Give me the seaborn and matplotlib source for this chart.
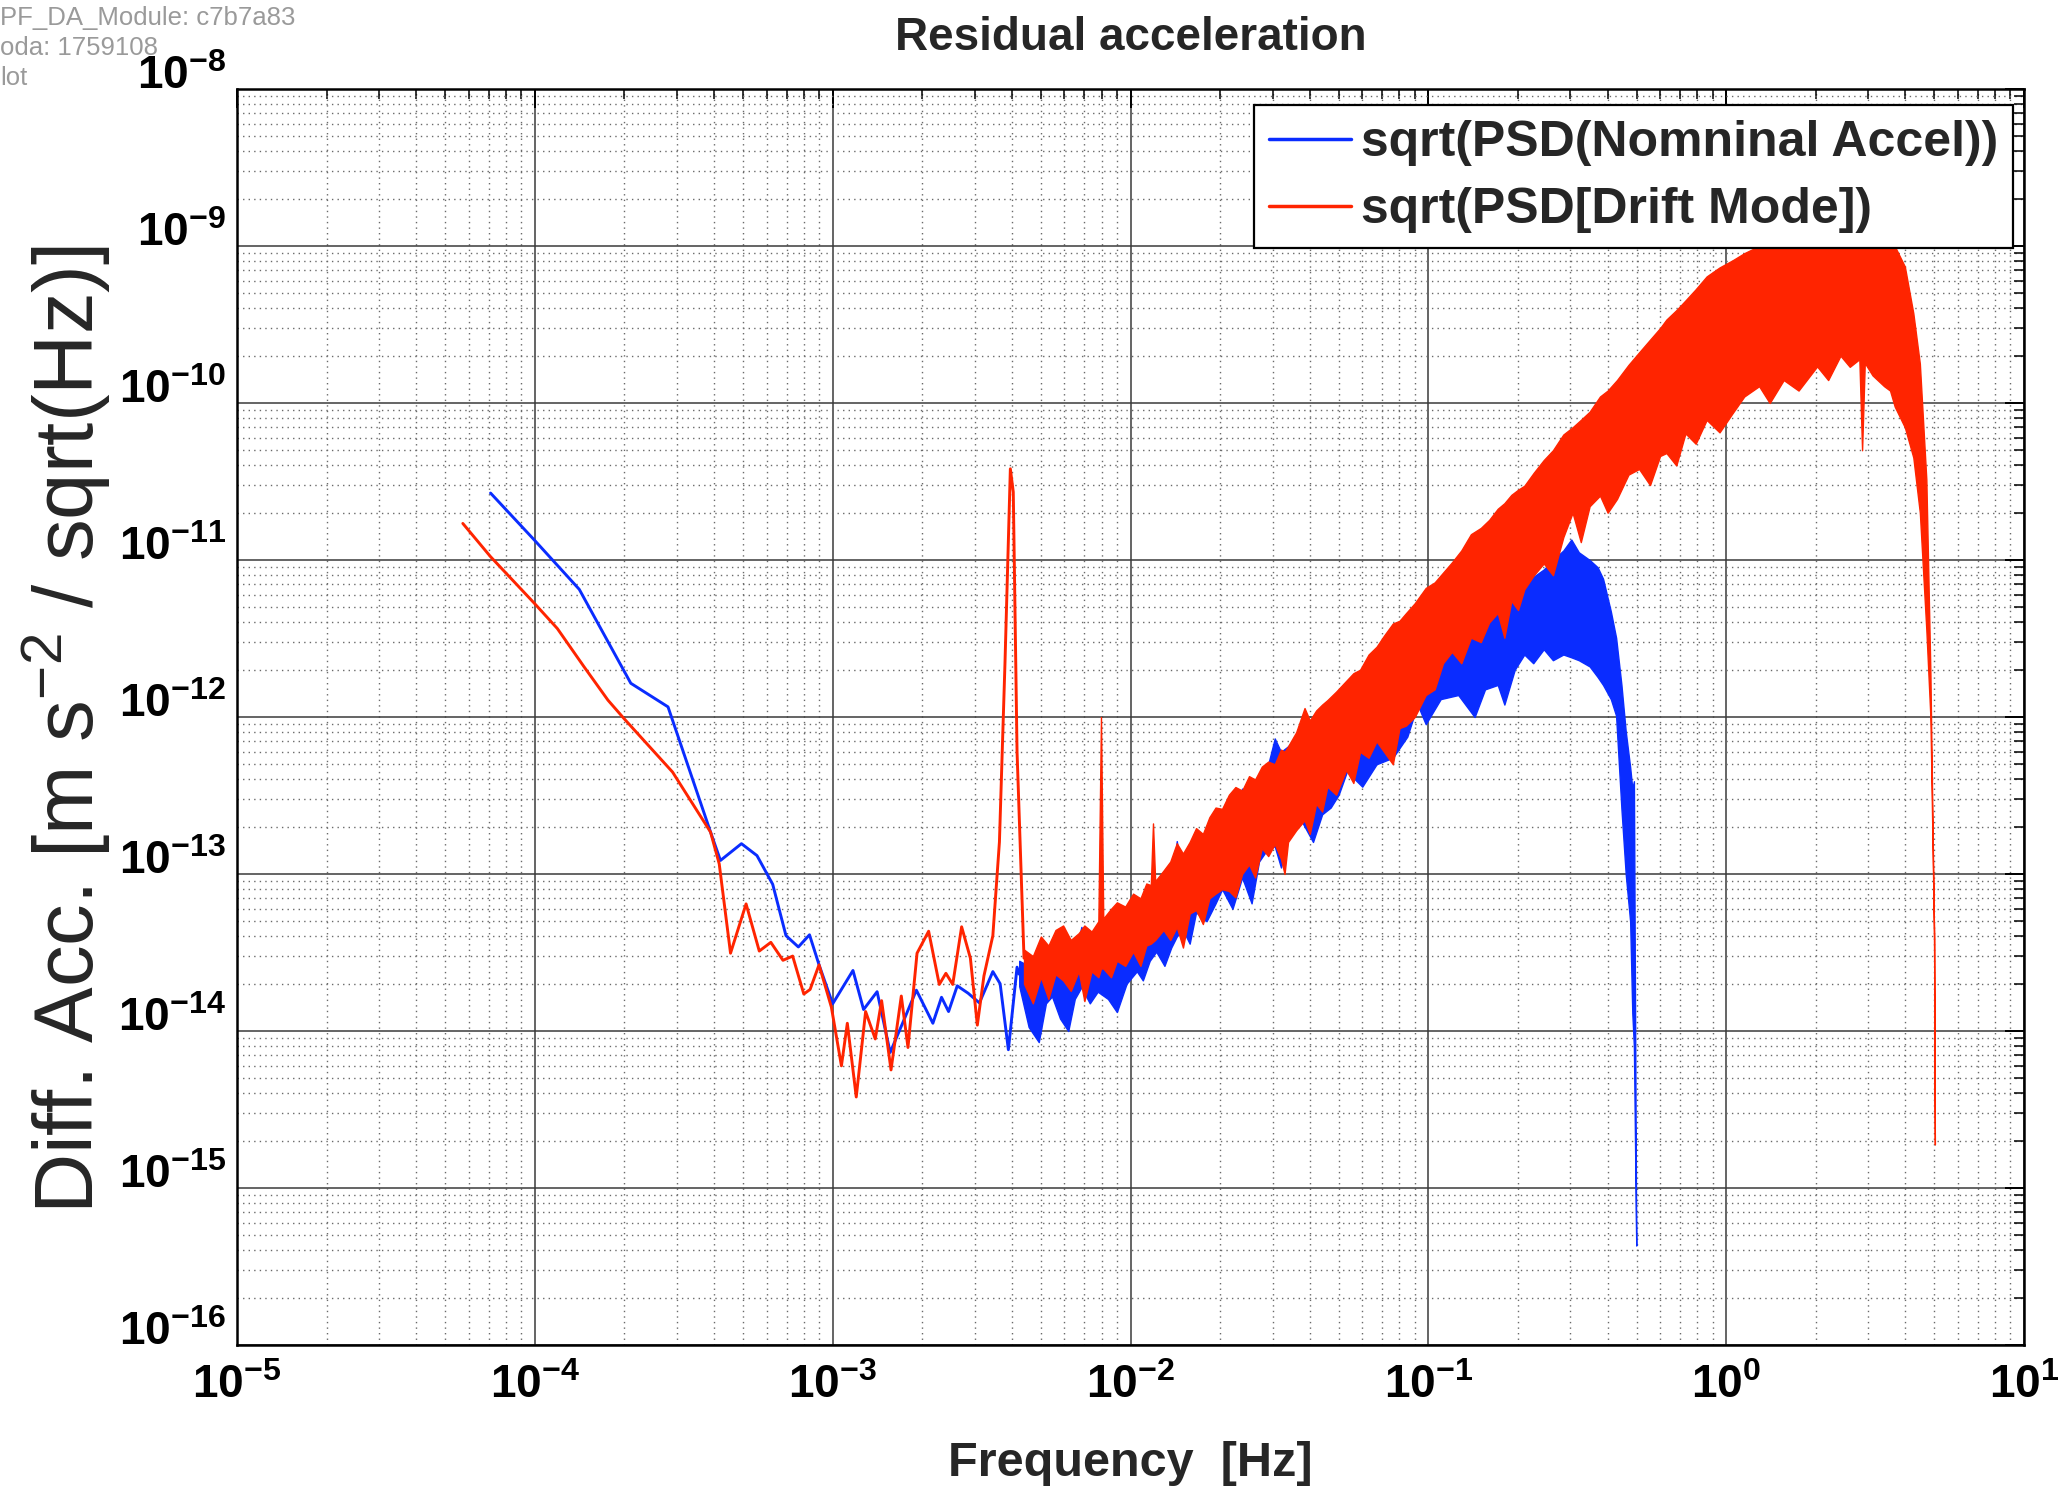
import matplotlib
matplotlib.use("Agg")
import numpy as np
import pandas as pd
import matplotlib.pyplot as plt
import seaborn as sns
from matplotlib.ticker import FixedLocator, FixedFormatter, LogLocator, NullFormatter

# ---------------- data ----------------
# sparse low-frequency part, nominal acceleration (blue)
blue_lf_f = [7.1e-5, 1.0e-4, 1.41e-4, 2.10e-4, 2.80e-4, 3.89e-4, 4.2e-4, 4.94e-4, 5.57e-4,
             6.29e-4, 6.97e-4, 7.67e-4, 8.36e-4, 9.0e-4, 1.0e-3, 1.17e-3, 1.27e-3, 1.41e-3,
             1.56e-3, 1.73e-3, 1.91e-3, 2.17e-3, 2.32e-3, 2.45e-3, 2.62e-3, 2.85e-3, 3.11e-3,
             3.45e-3, 3.65e-3, 3.89e-3, 4.16e-3, 4.23e-3]
blue_lf_y = [2.67e-11, 1.33e-11, 6.5e-12, 1.64e-12, 1.16e-12, 1.85e-13, 1.22e-13, 1.56e-13, 1.31e-13,
             8.6e-14, 4.05e-14, 3.43e-14, 4.1e-14, 2.64e-14, 1.49e-14, 2.43e-14, 1.37e-14, 1.78e-14,
             7.3e-15, 1.16e-14, 1.82e-14, 1.12e-14, 1.64e-14, 1.33e-14, 1.94e-14, 1.74e-14, 1.51e-14,
             2.39e-14, 2.0e-14, 7.6e-15, 2.55e-14, 2.3e-14]

# sparse low-frequency part, drift mode (red)
red_lf_f = [5.73e-5, 7.1e-5, 1.0e-4, 1.19e-4, 1.46e-4, 1.76e-4, 1.99e-4, 2.90e-4, 3.89e-4, 4.16e-4,
            4.54e-4, 5.12e-4, 5.67e-4, 6.2e-4, 6.81e-4, 7.34e-4, 8.0e-4, 8.4e-4, 9.0e-4, 9.9e-4,
            1.07e-3, 1.12e-3, 1.2e-3, 1.29e-3, 1.39e-3, 1.46e-3, 1.57e-3, 1.70e-3, 1.79e-3, 1.92e-3,
            2.1e-3, 2.28e-3, 2.4e-3, 2.53e-3, 2.71e-3, 2.9e-3, 3.06e-3, 3.22e-3, 3.45e-3, 3.63e-3,
            3.79e-3, 3.95e-3, 4.04e-3, 4.16e-3, 4.39e-3]
red_lf_y = [1.71e-11, 1.05e-11, 5.26e-12, 3.66e-12, 2.10e-12, 1.28e-12, 9.8e-13, 4.46e-13, 1.85e-13, 1.16e-13,
            3.13e-14, 6.45e-14, 3.23e-14, 3.67e-14, 2.82e-14, 3.0e-14, 1.72e-14, 1.84e-14, 2.64e-14, 1.42e-14,
            6.0e-15, 1.12e-14, 3.8e-15, 1.33e-14, 8.9e-15, 1.56e-14, 5.65e-15, 1.67e-14, 7.85e-15, 3.13e-14,
            4.32e-14, 1.98e-14, 2.33e-14, 1.98e-14, 4.61e-14, 2.91e-14, 1.09e-14, 2.24e-14, 4.05e-14, 1.6e-13,
            2.23e-12, 3.81e-11, 2.71e-11, 6.0e-13, 2.91e-14]

# dense part (many FFT bins): upper / lower envelope of the blue band
blue_band_f = [4.23e-3, 4.55e-3, 4.92e-3, 5.2e-3, 5.45e-3, 5.8e-3, 6.18e-3, 6.5e-3, 6.84e-3, 7.3e-3,
               7.76e-3, 8.4e-3, 9.0e-3, 9.7e-3, 1.05e-2, 1.1e-2, 1.16e-2, 1.22e-2, 1.3e-2, 1.37e-2,
               1.43e-2, 1.5e-2, 1.58e-2, 1.66e-2, 1.8e-2, 1.93e-2, 2.03e-2, 2.2e-2, 2.37e-2, 2.55e-2,
               2.7e-2, 2.9e-2, 3.05e-2, 3.2e-2, 3.38e-2, 3.74e-2, 4.1e-2, 4.4e-2, 4.7e-2, 5.0e-2,
               5.33e-2, 6.0e-2, 6.7e-2, 7.6e-2, 8.5e-2, 9.2e-2, 9.8e-2, 0.11, 0.126, 0.143,
               0.155, 0.171, 0.18, 0.195, 0.21, 0.225, 0.244, 0.262, 0.284, 0.302,
               0.32, 0.348, 0.37, 0.386, 0.41, 0.427, 0.445, 0.46, 0.476, 0.484,
               0.49, 0.499]
blue_band_hi = [2.8e-14, 2.6e-14, 2.8e-14, 2.5e-14, 3.0e-14, 2.7e-14, 3.2e-14, 3.0e-14, 4.6e-14, 3.4e-14,
                3.6e-14, 3.2e-14, 3.3e-14, 4.0e-14, 4.5e-14, 4.2e-14, 5.9e-14, 6.5e-14, 6.0e-14, 7.5e-14,
                1.62e-13, 9.0e-14, 8.5e-14, 1.0e-13, 1.4e-13, 1.6e-13, 2.0e-13, 2.3e-13, 3.5e-13, 3.2e-13,
                4.0e-13, 5.0e-13, 7.3e-13, 6.0e-13, 6.5e-13, 8.1e-13, 9.0e-13, 1.0e-12, 1.1e-12, 1.2e-12,
                1.4e-12, 1.7e-12, 2.0e-12, 2.5e-12, 2.9e-12, 3.2e-12, 3.5e-12, 4.0e-12, 4.6e-12, 5.2e-12,
                5.6e-12, 6.2e-12, 6.4e-12, 6.8e-12, 7.2e-12, 7.8e-12, 8.7e-12, 1.0e-11, 1.15e-11, 1.35e-11,
                1.12e-11, 1.0e-11, 9.0e-12, 7.6e-12, 4.7e-12, 3.2e-12, 1.6e-12, 8.1e-13, 4.8e-13, 3.5e-13,
                3.9e-13, 4.3e-16]
blue_band_lo = [1.93e-14, 1.06e-14, 8.5e-15, 1.5e-14, 1.66e-14, 1.2e-14, 1.0e-14, 1.6e-14, 1.9e-14, 1.5e-14,
                1.78e-14, 1.6e-14, 1.32e-14, 2.0e-14, 2.4e-14, 2.1e-14, 2.8e-14, 3.2e-14, 2.6e-14, 3.4e-14,
                4.0e-14, 4.4e-14, 3.6e-14, 5.7e-14, 5.0e-14, 6.5e-14, 8.0e-14, 6.0e-14, 9.5e-14, 6.5e-14,
                1.2e-13, 1.46e-13, 1.5e-13, 1.1e-13, 1.7e-13, 2.2e-13, 1.6e-13, 2.4e-13, 2.65e-13, 3.2e-13,
                4.5e-13, 3.6e-13, 5.0e-13, 5.5e-13, 7.5e-13, 1.2e-12, 9.0e-13, 1.3e-12, 1.38e-12, 1.0e-12,
                1.5e-12, 1.6e-12, 1.2e-12, 2.0e-12, 2.5e-12, 2.2e-12, 2.7e-12, 2.3e-12, 2.5e-12, 2.4e-12,
                2.3e-12, 2.1e-12, 1.8e-12, 1.6e-12, 1.3e-12, 1.02e-12, 2.6e-13, 1.0e-13, 5.0e-14, 1.3e-14,
                8.0e-15, 4.3e-16]

# dense part: upper / lower envelope of the red band
red_band_f = [4.39e-3, 4.7e-3, 5.0e-3, 5.3e-3, 5.6e-3, 5.94e-3, 6.3e-3, 6.7e-3, 7.0e-3, 7.4e-3,
              7.8e-3, 7.96e-3, 8.1e-3, 8.6e-3, 9.0e-3, 9.6e-3, 1.02e-2, 1.08e-2, 1.13e-2, 1.17e-2,
              1.19e-2, 1.21e-2, 1.29e-2, 1.36e-2, 1.43e-2, 1.5e-2, 1.58e-2, 1.66e-2, 1.75e-2, 1.84e-2,
              1.93e-2, 2.03e-2, 2.14e-2, 2.25e-2, 2.37e-2, 2.5e-2, 2.62e-2, 2.76e-2, 2.9e-2, 3.05e-2,
              3.2e-2, 3.29e-2, 3.38e-2, 3.6e-2, 3.84e-2, 4.0e-2, 4.2e-2, 4.4e-2, 4.58e-2, 4.9e-2,
              5.3e-2, 5.6e-2, 5.9e-2, 6.3e-2, 6.7e-2, 7.1e-2, 7.6e-2, 8.0e-2, 8.4e-2, 9.0e-2,
              9.8e-2, 0.105, 0.112, 0.120, 0.129, 0.139, 0.15, 0.16, 0.171, 0.18,
              0.19, 0.2, 0.21, 0.226, 0.244, 0.262, 0.284, 0.305, 0.325, 0.348,
              0.377, 0.40, 0.43, 0.47, 0.51, 0.555, 0.6, 0.63, 0.68, 0.73,
              0.79, 0.86, 0.95, 1.05, 1.15, 1.29, 1.4, 1.56, 1.75, 2.02,
              2.2, 2.42, 2.6, 2.80, 2.86, 2.92, 3.1, 3.39, 3.55, 3.68,
              3.98, 4.25, 4.47, 4.70, 4.85, 4.99, 5.02]
red_band_hi = [3.3e-14, 3.0e-14, 4.0e-14, 3.5e-14, 4.4e-14, 4.7e-14, 3.8e-14, 4.2e-14, 4.7e-14, 4.3e-14,
               5.0e-14, 1.0e-12, 5.2e-14, 6.0e-14, 6.6e-14, 6.2e-14, 7.5e-14, 7.0e-14, 8.7e-14, 8.5e-14,
               2.1e-13, 9.0e-14, 1.05e-13, 1.2e-13, 1.57e-13, 1.35e-13, 1.6e-13, 1.96e-13, 1.8e-13, 2.3e-13,
               2.65e-13, 2.6e-13, 3.2e-13, 3.58e-13, 3.4e-13, 4.2e-13, 4.0e-13, 4.83e-13, 5.2e-13, 5.0e-13,
               6.2e-13, 6.0e-13, 6.5e-13, 8.0e-13, 1.14e-12, 9.5e-13, 1.1e-12, 1.2e-12, 1.28e-12, 1.45e-12,
               1.7e-12, 1.9e-12, 2.0e-12, 2.5e-12, 2.8e-12, 3.3e-12, 3.94e-12, 4.1e-12, 4.57e-12, 5.3e-12,
               6.64e-12, 7.2e-12, 8.3e-12, 9.66e-12, 1.15e-11, 1.46e-11, 1.6e-11, 1.8e-11, 2.12e-11, 2.3e-11,
               2.6e-11, 2.8e-11, 2.97e-11, 3.6e-11, 4.33e-11, 5.0e-11, 6.3e-11, 7.0e-11, 7.8e-11, 8.8e-11,
               1.1e-10, 1.2e-10, 1.4e-10, 1.75e-10, 2.1e-10, 2.53e-10, 3.0e-10, 3.4e-10, 3.9e-10, 4.5e-10,
               5.3e-10, 6.4e-10, 7.3e-10, 8.1e-10, 9.0e-10, 1.0e-9, 1.1e-9, 1.3e-9, 1.4e-9, 1.5e-9,
               1.5e-9, 1.6e-9, 1.6e-9, 1.6e-9, 1.6e-9, 1.6e-9, 1.6e-9, 1.5e-9, 1.3e-9, 1.0e-9,
               7.4e-10, 3.73e-10, 1.78e-10, 3.26e-11, 1.9e-12, 4.0e-14, 1.9e-15]
red_band_lo = [2.0e-14, 1.5e-14, 2.2e-14, 1.6e-14, 2.3e-14, 2.1e-14, 1.8e-14, 2.4e-14, 1.55e-14, 2.4e-14,
               2.2e-14, 2.5e-14, 2.5e-14, 2.2e-14, 2.8e-14, 2.6e-14, 3.2e-14, 2.6e-14, 3.5e-14, 3.6e-14,
               3.7e-14, 3.8e-14, 4.4e-14, 3.8e-14, 4.6e-14, 3.4e-14, 5.6e-14, 5.9e-14, 4.8e-14, 7.0e-14,
               7.5e-14, 8.0e-14, 7.8e-14, 7.1e-14, 1.0e-13, 1.15e-13, 9.5e-14, 1.46e-13, 1.3e-13, 1.55e-13,
               1.25e-13, 1.0e-13, 1.6e-13, 1.9e-13, 2.2e-13, 1.8e-13, 2.8e-13, 2.5e-13, 3.6e-13, 3.2e-13,
               4.6e-13, 3.8e-13, 6.0e-13, 5.5e-13, 7.0e-13, 6.0e-13, 5.0e-13, 8.5e-13, 8.8e-13, 1.0e-12,
               1.38e-12, 1.5e-12, 2.2e-12, 2.6e-12, 2.2e-12, 3.2e-12, 3.0e-12, 4.0e-12, 4.6e-12, 3.2e-12,
               5.5e-12, 4.8e-12, 6.5e-12, 8.0e-12, 9.5e-12, 8.0e-12, 1.4e-11, 2.0e-11, 1.3e-11, 2.2e-11,
               2.57e-11, 2.0e-11, 2.45e-11, 3.5e-11, 3.8e-11, 3.0e-11, 4.6e-11, 4.8e-11, 4.0e-11, 6.4e-11,
               5.5e-11, 7.8e-11, 6.5e-11, 8.6e-11, 1.1e-10, 1.28e-10, 1.0e-10, 1.4e-10, 1.2e-10, 1.71e-10,
               1.4e-10, 2.0e-10, 1.7e-10, 1.9e-10, 5.0e-11, 1.8e-10, 1.5e-10, 1.28e-10, 1.2e-10, 9.5e-11,
               7.0e-11, 4.5e-11, 2.0e-11, 3.6e-12, 1.0e-12, 4.0e-14, 1.9e-15]

series_labels = ["sqrt(PSD(Nomninal Accel))", "sqrt(PSD[Drift Mode])"]
x_ticks = [1e-5, 1e-4, 1e-3, 1e-2, 1e-1, 1e0, 1e1]
x_exps = ["-5", "-4", "-3", "-2", "-1", "0", "1"]
y_ticks = [1e-16, 1e-15, 1e-14, 1e-13, 1e-12, 1e-11, 1e-10, 1e-9, 1e-8]
y_exps = ["-16", "-15", "-14", "-13", "-12", "-11", "-10", "-9", "-8"]
header_lines = ["PF_DA_Module: c7b7a83", "oda: 1759108", "lot"]

BLUE = "#0a2cff"
RED = "#ff2400"

# ---------------- style ----------------
sns.set_style("white")
plt.rcParams["font.family"] = ["Liberation Sans", "DejaVu Sans"]
plt.rcParams["mathtext.fontset"] = "custom"
plt.rcParams["mathtext.rm"] = "Liberation Sans"
plt.rcParams["mathtext.it"] = "Liberation Sans:italic"
plt.rcParams["mathtext.bf"] = "Liberation Sans:bold"

fig = plt.figure(figsize=(20.61, 14.92), dpi=100)
ax = fig.add_axes([237 / 2061, 1 - 1345 / 1492, 1787 / 2061, 1256 / 1492])
ax.set_xscale("log")
ax.set_yscale("log")

# blue series
ax.fill_between(blue_band_f, blue_band_lo, blue_band_hi, color=BLUE, lw=1.0, zorder=2)
sns.lineplot(x=blue_lf_f, y=blue_lf_y, color=BLUE, lw=2.1, ax=ax, sort=False,
             estimator=None, label=series_labels[0], zorder=2)
# red series
ax.fill_between(red_band_f, red_band_lo, red_band_hi, color=RED, lw=1.0, zorder=3)
sns.lineplot(x=red_lf_f, y=red_lf_y, color=RED, lw=2.1, ax=ax, sort=False,
             estimator=None, label=series_labels[1], zorder=3)

ax.set_xlim(1e-5, 1e1)
ax.set_ylim(1e-16, 1e-8)

# ticks
ax.xaxis.set_major_locator(FixedLocator(x_ticks))
ax.xaxis.set_major_formatter(FixedFormatter([r"$\mathbf{10^{%s}}$" % e for e in x_exps]))
ax.yaxis.set_major_locator(FixedLocator(y_ticks))
ax.yaxis.set_major_formatter(FixedFormatter([r"$\mathbf{10^{%s}}$" % e for e in y_exps]))
for axis in (ax.xaxis, ax.yaxis):
    axis.set_minor_locator(LogLocator(base=10, subs=np.arange(2, 10), numticks=200))
    axis.set_minor_formatter(NullFormatter())

ax.tick_params(which="both", direction="in", top=True, right=True, colors="black")
ax.tick_params(which="major", length=14, width=1.4, labelsize=33)
ax.tick_params(which="minor", length=7, width=1.1)
ax.tick_params(axis="x", which="major", pad=14)
ax.tick_params(axis="y", which="major", pad=8)

ax.grid(True, which="major", color="#3a3a3a", linestyle="-", linewidth=1.1, zorder=0)
ax.grid(True, which="minor", color="#6a6a6a", linestyle=(0, (1, 3)), linewidth=1.0, zorder=0)
ax.set_axisbelow(True)
for s in ax.spines.values():
    s.set_linewidth(1.8)
    s.set_color("black")

# labels
ax.set_title("Residual acceleration", fontsize=33, fontweight="bold", y=1.041, va="center", pad=0)
ax.set_xlabel("Frequency  [Hz]", fontsize=35, fontweight="bold", va="center")
ax.xaxis.set_label_coords(0.5, -0.094)
ax.set_ylabel(r"Diff. Acc. [m s$^{-2}$ / sqrt(Hz)]", fontsize=60, va="center")
ax.yaxis.set_label_coords(-0.095, 0.49)

leg = ax.legend(loc="upper right", bbox_to_anchor=(0.994, 0.987), borderaxespad=0,
                prop={"size": 36, "weight": "bold"}, frameon=True, fancybox=False,
                edgecolor="black", facecolor="white", framealpha=1, handlelength=1.65,
                handletextpad=0.2, borderpad=0.3, labelspacing=0.42)
leg.get_frame().set_linewidth(1.6)
leg.set_zorder(10)
for ln in leg.get_lines():
    ln.set_linewidth(2.5)

for i, t in enumerate(header_lines):
    fig.text(0.0, 1 - (18 + 30 * i) / 1492, t, color="#9a9a9a", fontsize=18.5, va="center", ha="left")

fig.canvas.draw()
for t in ax.yaxis.get_major_ticks():
    t.label1.set_verticalalignment("baseline")

fig.savefig("out.png", dpi=100)
